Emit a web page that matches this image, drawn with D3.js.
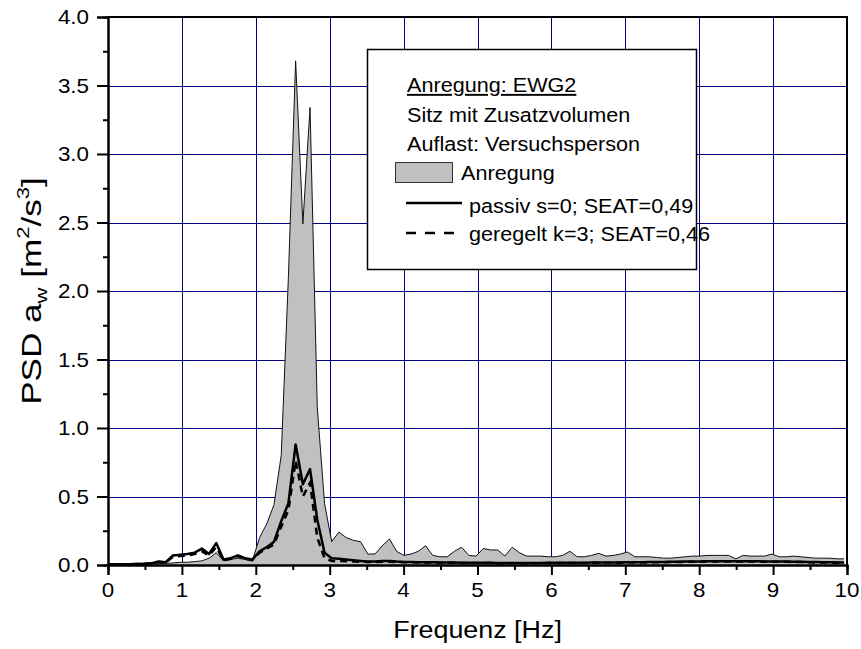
<!DOCTYPE html>
<html>
<head>
<meta charset="utf-8">
<script src="https://cdn.jsdelivr.net/npm/d3@7"></script>
<style>
  html, body { margin: 0; padding: 0; background: #fff; }
  svg { display: block; }
  text { font-family: "Liberation Sans", Arial, Helvetica, sans-serif; fill: #000; }
</style>
</head>
<body>
<svg id="chart" width="861" height="649"></svg>
<script>
// Frequency grid of the spectra [Hz]
const freq = [0.000,0.098,0.195,0.293,0.391,0.488,0.586,0.684,0.781,0.879,
  0.977,1.074,1.172,1.270,1.367,1.465,1.563,1.660,1.758,1.855,
  1.953,2.051,2.148,2.246,2.344,2.441,2.539,2.637,2.734,2.832,
  2.930,3.027,3.125,3.223,3.320,3.418,3.516,3.613,3.711,3.809,
  3.906,4.004,4.102,4.199,4.297,4.395,4.492,4.590,4.688,4.785,
  4.883,4.980,5.078,5.176,5.273,5.371,5.469,5.566,5.664,5.762,
  5.859,5.957,6.055,6.152,6.250,6.348,6.445,6.543,6.641,6.738,
  6.836,6.934,7.031,7.129,7.227,7.324,7.422,7.520,7.617,7.715,
  7.813,7.910,8.008,8.105,8.203,8.301,8.398,8.496,8.594,8.691,
  8.789,8.887,8.984,9.082,9.180,9.277,9.375,9.473,9.570,9.668,
  9.766,9.863,9.961];

// PSD of the excitation (EWG2) [m²/s³]
const anregung = [0.002,0.003,0.004,0.005,0.005,0.006,0.008,0.010,0.012,0.015,
  0.020,0.020,0.025,0.030,0.050,0.090,0.030,0.040,0.050,0.040,
  0.030,0.200,0.300,0.440,0.800,2.100,3.680,2.490,3.340,1.150,
  0.450,0.170,0.240,0.200,0.180,0.170,0.080,0.080,0.140,0.190,
  0.100,0.070,0.080,0.100,0.140,0.070,0.060,0.060,0.100,0.130,
  0.070,0.065,0.120,0.110,0.110,0.065,0.130,0.090,0.065,0.065,
  0.065,0.060,0.060,0.070,0.100,0.060,0.060,0.070,0.085,0.065,
  0.070,0.080,0.095,0.060,0.060,0.060,0.055,0.050,0.050,0.055,
  0.060,0.065,0.065,0.070,0.070,0.070,0.070,0.045,0.070,0.065,
  0.065,0.065,0.080,0.060,0.060,0.065,0.060,0.055,0.050,0.050,
  0.050,0.045,0.045];

// Seat response, passive (s=0)
const passiv = [0.005,0.005,0.005,0.006,0.008,0.010,0.012,0.025,0.020,0.070,
  0.075,0.080,0.090,0.120,0.080,0.160,0.040,0.050,0.070,0.050,
  0.040,0.100,0.130,0.170,0.320,0.450,0.880,0.590,0.700,0.330,
  0.090,0.050,0.045,0.040,0.035,0.030,0.025,0.025,0.030,0.030,
  0.025,0.022,0.022,0.020,0.020,0.020,0.018,0.018,0.018,0.017,
  0.017,0.016,0.016,0.016,0.015,0.015,0.015,0.015,0.015,0.015,
  0.015,0.016,0.016,0.016,0.017,0.017,0.017,0.018,0.018,0.018,
  0.018,0.019,0.020,0.020,0.020,0.021,0.022,0.022,0.023,0.024,
  0.025,0.025,0.026,0.027,0.027,0.028,0.028,0.028,0.028,0.027,
  0.027,0.026,0.026,0.025,0.025,0.024,0.023,0.022,0.021,0.020,
  0.020,0.019,0.018];

// Seat response, controlled (k=3)
const geregelt = [0.004,0.004,0.004,0.005,0.007,0.009,0.011,0.022,0.018,0.060,
  0.065,0.070,0.080,0.100,0.070,0.130,0.035,0.045,0.065,0.045,
  0.035,0.090,0.120,0.150,0.280,0.400,0.760,0.500,0.600,0.200,
  0.050,0.030,0.030,0.028,0.026,0.024,0.022,0.022,0.024,0.024,
  0.022,0.020,0.020,0.018,0.018,0.018,0.016,0.016,0.016,0.015,
  0.015,0.014,0.014,0.014,0.013,0.013,0.013,0.013,0.013,0.013,
  0.013,0.014,0.014,0.014,0.015,0.015,0.015,0.016,0.016,0.016,
  0.016,0.017,0.018,0.018,0.018,0.019,0.020,0.020,0.021,0.022,
  0.023,0.023,0.024,0.025,0.025,0.026,0.026,0.026,0.026,0.025,
  0.025,0.024,0.024,0.023,0.023,0.022,0.021,0.020,0.019,0.018,
  0.018,0.017,0.016];

// Axis ticks
const xMajor = [0,1,2,3,4,5,6,7,8,9,10];
const xMinor = [0.5,1.5,2.5,3.5,4.5,5.5,6.5,7.5,8.5,9.5];
const yMajor = [0.0,0.5,1.0,1.5,2.0,2.5,3.0,3.5,4.0];
const yMinor = [0.25,0.75,1.25,1.75,2.25,2.75,3.25,3.75];
const xGrid = [1,2,3,4,5,6,7,8,9];
const yGrid = [0.5,1.0,1.5,2.0,2.5,3.0,3.5];

// Legend texts
const legendHeader = ["Anregung: EWG2", "Sitz mit Zusatzvolumen", "Auflast: Versuchsperson"];
const seriesNames = ["Anregung", "passiv s=0; SEAT=0,49", "geregelt k=3; SEAT=0,46"];

const svg = d3.select("#chart");
const plotL = 108, plotR = 847, plotT = 17, plotB = 565;
const sx = 1.12; // horizontal text stretch

const x = d3.scaleLinear().domain([0, 10]).range([plotL, plotR]);
const y = d3.scaleLinear().domain([0, 4]).range([plotB, plotT]);

// grid
const grid = svg.append("g").attr("stroke", "#000080").attr("stroke-width", 1);
grid.selectAll("line.gx").data(xGrid).join("line").attr("class", "gx")
  .attr("x1", d => Math.round(x(d)) + 0.5).attr("x2", d => Math.round(x(d)) + 0.5)
  .attr("y1", plotT).attr("y2", plotB);
grid.selectAll("line.gy").data(yGrid).join("line").attr("class", "gy")
  .attr("y1", d => Math.round(y(d)) + 0.5).attr("y2", d => Math.round(y(d)) + 0.5)
  .attr("x1", plotL).attr("x2", plotR);

const pts = freq.map((f, i) => i);

// excitation area
const area = d3.area()
  .x(i => x(freq[i])).y0(y(0)).y1(i => y(anregung[i]));
svg.append("path").datum(pts).attr("d", area)
  .attr("fill", "#c0c0c0").attr("stroke", "none");
svg.append("path").datum(pts)
  .attr("d", d3.line().x(i => x(freq[i])).y(i => y(anregung[i])))
  .attr("fill", "none").attr("stroke", "#111").attr("stroke-width", 1);

// response lines
svg.append("path").datum(pts)
  .attr("d", d3.line().x(i => x(freq[i])).y(i => y(passiv[i])))
  .attr("fill", "none").attr("stroke", "#000").attr("stroke-width", 2.5)
  .attr("stroke-linejoin", "round");
svg.append("path").datum(pts)
  .attr("d", d3.line().x(i => x(freq[i])).y(i => y(geregelt[i])))
  .attr("fill", "none").attr("stroke", "#000").attr("stroke-width", 2.5)
  .attr("stroke-dasharray", "7,5");

// axes
const gx = svg.append("g").attr("transform", `translate(0,${plotB})`);
gx.call(d3.axisBottom(x).tickValues(xMajor).tickSize(10).tickFormat(""));
gx.append("g").call(d3.axisBottom(x).tickValues(xMinor).tickSize(5).tickFormat(""));
const gy = svg.append("g").attr("transform", `translate(${plotL},0)`);
gy.call(d3.axisLeft(y).tickValues(yMajor).tickSize(11).tickFormat(""));
gy.append("g").call(d3.axisLeft(y).tickValues(yMinor).tickSize(5).tickFormat(""));
svg.selectAll(".domain").attr("stroke", "#000").attr("stroke-width", 2);
svg.selectAll(".tick line").attr("stroke", "#000").attr("stroke-width", 2);

// frame on top and right
svg.append("path")
  .attr("d", `M${plotL},${plotT}H${plotR}V${plotB}`)
  .attr("fill", "none").attr("stroke", "#000").attr("stroke-width", 2);

// tick labels
const fmt = d3.format(".1f");
svg.append("g").selectAll("text").data(xMajor).join("text")
  .attr("transform", d => `translate(${x(d)},597) scale(${sx},1)`)
  .attr("text-anchor", "middle").attr("font-size", 20)
  .text(d => d);
svg.append("g").selectAll("text").data(yMajor).join("text")
  .attr("transform", d => `translate(89,${y(d) + 7}) scale(${sx},1)`)
  .attr("text-anchor", "end").attr("font-size", 20)
  .text(d => fmt(d));

// axis titles
svg.append("text")
  .attr("transform", `translate(${(plotL + plotR) / 2},638) scale(${sx},1)`)
  .attr("text-anchor", "middle").attr("font-size", 24)
  .text("Frequenz [Hz]");
const yt = svg.append("text")
  .attr("transform", `translate(41,${(plotT + plotB) / 2}) rotate(-90) scale(1.3,1)`)
  .attr("text-anchor", "middle").attr("font-size", 27);
yt.append("tspan").text("PSD a");
yt.append("tspan").attr("font-size", 17).attr("dy", 6).text("w");
yt.append("tspan").attr("dy", -6).text(" [m");
yt.append("tspan").attr("font-size", 17).attr("dy", -12).text("2");
yt.append("tspan").attr("dy", 12).text("/s");
yt.append("tspan").attr("font-size", 17).attr("dy", -12).text("3");
yt.append("tspan").attr("dy", 12).text("]");

// legend
const lg = svg.append("g");
lg.append("rect").attr("x", 367.5).attr("y", 49.5).attr("width", 329).attr("height", 220)
  .attr("fill", "#fff").attr("stroke", "#000").attr("stroke-width", 1.5);
const lfs = 19.3;
const hdrY = [92, 122, 151];
lg.selectAll("text.hdr").data(legendHeader).join("text").attr("class", "hdr")
  .attr("transform", (d, i) => `translate(407,${hdrY[i]}) scale(${sx},1)`)
  .attr("font-size", lfs)
  .attr("text-decoration", (d, i) => i === 0 ? "underline" : null)
  .text(d => d);
lg.append("rect").attr("x", 395.5).attr("y", 162.5).attr("width", 57).attr("height", 20)
  .attr("fill", "#c0c0c0").attr("stroke", "#333").attr("stroke-width", 1);
lg.append("line").attr("x1", 406).attr("x2", 462).attr("y1", 203).attr("y2", 203)
  .attr("stroke", "#000").attr("stroke-width", 2.5);
lg.append("line").attr("x1", 406).attr("x2", 462).attr("y1", 233).attr("y2", 233)
  .attr("stroke", "#000").attr("stroke-width", 2.5).attr("stroke-dasharray", "10,9");
const serX = [461, 469, 469], serY = [180, 213, 241];
lg.selectAll("text.ser").data(seriesNames).join("text").attr("class", "ser")
  .attr("transform", (d, i) => `translate(${serX[i]},${serY[i]}) scale(${sx},1)`)
  .attr("font-size", lfs)
  .text(d => d);
</script>
</body>
</html>
